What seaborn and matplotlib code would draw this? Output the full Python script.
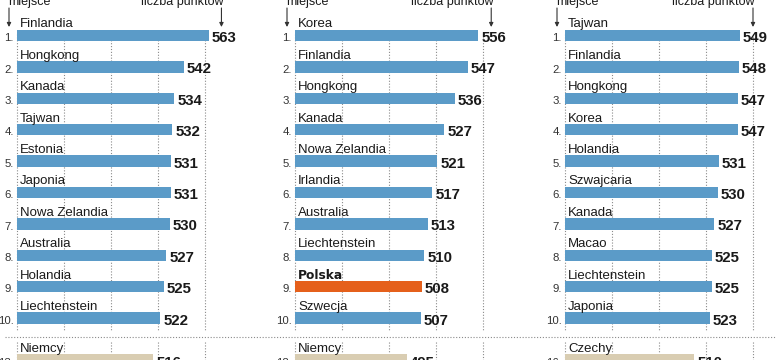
import matplotlib
matplotlib.use("Agg")
import matplotlib.pyplot as plt
import pandas as pd
import seaborn as sns
from matplotlib.lines import Line2D

# Data (PISA: three rankings)
countries_1 = ['Finlandia', 'Hongkong', 'Kanada', 'Tajwan', 'Estonia', 'Japonia',
               'Nowa Zelandia', 'Australia', 'Holandia', 'Liechtenstein', 'Niemcy']
values_1 = [563, 542, 534, 532, 531, 531, 530, 527, 525, 522, 516]
ranks_1 = [1, 2, 3, 4, 5, 6, 7, 8, 9, 10, 13]

countries_2 = ['Korea', 'Finlandia', 'Hongkong', 'Kanada', 'Nowa Zelandia', 'Irlandia',
               'Australia', 'Liechtenstein', 'Polska', 'Szwecja', 'Niemcy']
values_2 = [556, 547, 536, 527, 521, 517, 513, 510, 508, 507, 495]
ranks_2 = [1, 2, 3, 4, 5, 6, 7, 8, 9, 10, 18]

countries_3 = ['Tajwan', 'Finlandia', 'Hongkong', 'Korea', 'Holandia', 'Szwajcaria',
               'Kanada', 'Macao', 'Liechtenstein', 'Japonia', 'Czechy']
values_3 = [549, 548, 547, 547, 531, 530, 527, 525, 525, 523, 510]
ranks_3 = [1, 2, 3, 4, 5, 6, 7, 8, 9, 10, 16]

label_rank = 'miejsce'
label_points = 'liczba punktów'
highlight = 'Polska'

# Styles
BLUE = '#5b9bc8'
ORANGE = '#e5601b'
BEIGE = '#d9cdb2'
TEXT = '#1a1a1a'
GRID = '#8a8a8a'

plt.rcParams['font.family'] = ['Liberation Sans', 'DejaVu Sans']

W, H = 780, 360
PPT = 47 / 40          # pixels per point on the value axis
ROW0, ROW = 35.5, 31.4  # first bar centre and row pitch (pixels)
X0 = 400
AX_W = 210


def py(y_px):
    return (y_px - ROW0) / ROW


panels = [
    (countries_1, values_1, ranks_1, 17),
    (countries_2, values_2, ranks_2, 295),
    (countries_3, values_3, ranks_3, 565),
]

fig = plt.figure(figsize=(W / 100, H / 100), dpi=100)

for countries, values, ranks, left in panels:
    ax = fig.add_axes([left / W, 0, AX_W / W, 1])
    pos = list(range(len(values) - 1)) + [py(360)]
    group = ['pl' if c == highlight else 'top' for c in countries[:-1]] + ['rest']
    df = pd.DataFrame({'kraj': countries, 'punkty': values, 'miejsce': ranks,
                       'pos': pos, 'grupa': group})

    ax.vlines([400, 440, 480, 520, 560], py(34), py(331), colors=GRID,
              linestyles=(0, (1, 1.6)), linewidth=0.8, zorder=0.5, clip_on=False)
    ax.vlines([400, 440, 480, 520, 560], py(342), py(362), colors=GRID,
              linestyles=(0, (1, 1.6)), linewidth=0.8, zorder=0.5, clip_on=False)

    sns.barplot(data=df, x='punkty', y='pos', hue='grupa', orient='h',
                palette={'top': BLUE, 'pl': ORANGE, 'rest': BEIGE},
                native_scale=True, width=0.36, dodge=False, saturation=1,
                linewidth=0, errorbar=None, legend=False, ax=ax, zorder=2)

    for _, r in df.iterrows():
        if r['kraj'] == highlight:
            ax.text(X0 + 3 / PPT, r['pos'] - 0.255, r['kraj'], ha='left', va='baseline',
                    fontsize=8.8, fontweight='bold', color=TEXT,
                    family=['DejaVu Sans'])
        else:
            ax.text(X0 + 3 / PPT, r['pos'] - 0.255, r['kraj'], ha='left', va='baseline',
                    fontsize=9.5, color=TEXT)
        ax.text(r['punkty'] + 3 / PPT, r['pos'] + 0.21, str(r['punkty']), ha='left',
                va='baseline', fontsize=10.8, fontweight='bold', color=TEXT)
        ax.text(X0 - 3 / PPT, r['pos'] + 0.18, f"{r['miejsce']}.", ha='right',
                va='baseline', fontsize=8.2, color='#333333')

    # header arrows
    xa = X0 - 8 / PPT
    xb = max(values) + 11
    for x in (xa, xb):
        ax.annotate('', xy=(x, py(27)), xytext=(x, py(8)), annotation_clip=False,
                    arrowprops=dict(arrowstyle='-|>', color='#333333', lw=0.8,
                                    mutation_scale=6, shrinkA=0, shrinkB=0))
    ax.text(xa - 1 / PPT, py(5), label_rank, ha='left', va='baseline',
            fontsize=9, color=TEXT)
    ax.text(xb + 2 / PPT, py(5), label_points, ha='right', va='baseline',
            fontsize=9, color=TEXT)

    ax.set_xlim(X0, X0 + AX_W / PPT)
    ax.set_ylim(py(H), py(0))
    ax.set_axis_off()

fig.add_artist(Line2D([5 / W, 775 / W], [1 - 337 / H] * 2, color=GRID,
                      linestyle=(0, (1, 1.6)), linewidth=0.8))

fig.savefig('out.png', dpi=100)
